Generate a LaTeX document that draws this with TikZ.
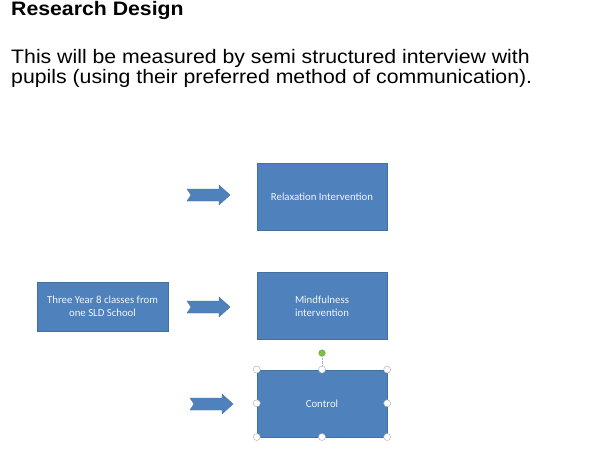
\documentclass[tikz,border=0pt]{standalone}
\usepackage{fontspec}
\setmainfont{Liberation Sans}[FakeStretch=1.09]
\newfontfamily\boxfont{Carlito}
\usetikzlibrary{positioning}

\definecolor{boxblue}{HTML}{4F81BD}
\definecolor{boxedge}{HTML}{41719C}
\definecolor{rotgreen}{HTML}{7CC242}

\tikzset{
  stage/.style={draw=boxedge, fill=boxblue, text=white!92!boxblue,
    minimum width=130pt, minimum height=67pt, inner sep=0pt, align=center,
    font=\boxfont\fontsize{10.8}{13}\selectfont},
  handle/.style={circle, draw=gray!65, fill=white, minimum size=7pt, inner sep=0pt},
  textline/.style={anchor=base west, inner sep=0pt, font=\fontsize{19.5}{22}\selectfont},
  pics/notcharrow/.style={code={
    \draw[draw=boxedge, fill=boxblue] (0,-6) -- (32,-6) -- (32,-10) -- (43,0)
      -- (32,10) -- (32,6) -- (0,6) -- (4,0) -- cycle;
  }}
}

\begin{document}
\begin{tikzpicture}[x=1pt, y=-1pt]
\useasboundingbox (0,0) rectangle (593,450);

% heading and description
\node[textline, font=\bfseries\fontsize{19.5}{22}\selectfont] (title) at (11,15.5) {Research Design};
\node[textline] (line1) at (11,63) {This will be measured by semi structured interview with};
\node[textline] (line2) at (11,83.5) {pupils (using their preferred method of communication).};

% groups
\node[stage] (relax) at (322,196.5) {Relaxation Intervention};
\node[stage, below=42pt of relax] (mind) {Mindfulness\\intervention};
\node[stage, below=30pt of mind] (ctrl) {Control};
\node[stage, minimum width=131pt, minimum height=49pt] (school) at (102.5,306.5)
  {Three Year 8 classes from\\one SLD School};

% block arrows
\pic at (187,195) {notcharrow};
\pic at (187,307) {notcharrow};
\pic at (190,404) {notcharrow};

% selection frame on the control box
\node[handle, fill=rotgreen, draw=rotgreen!80!black, minimum size=6.5pt] (rot) at (322,353) {};
\draw[gray!60, densely dotted] (rot) -- (ctrl.north);
\foreach \a in {north west,north,north east,west,east,south west,south,south east}
  \node[handle] (h-\a) at (ctrl.\a) {};
\end{tikzpicture}
\end{document}
